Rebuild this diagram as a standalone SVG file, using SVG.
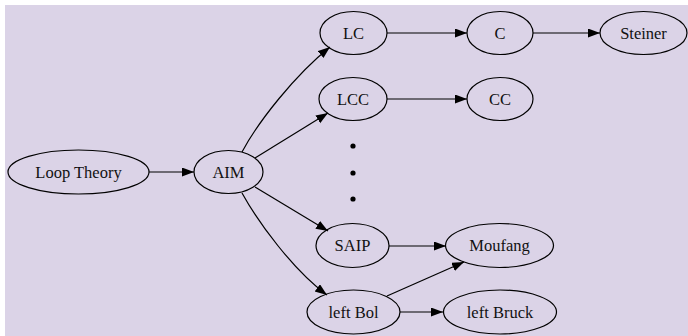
<svg xmlns="http://www.w3.org/2000/svg" width="688" height="336" viewBox="0 0 688 336">
  <style>
    .node ellipse { fill: none; stroke: #000; stroke-width: 1.2; }
    .node text { font-family: "Liberation Serif", "Times New Roman", serif; font-size: 16.5px; fill: #111; text-anchor: middle; }
    .edge { fill: none; stroke: #000; stroke-width: 1.2; marker-end: url(#arrow); }
  </style>
  <defs>
    <marker id="arrow" markerUnits="userSpaceOnUse" markerWidth="13" markerHeight="10" refX="12" refY="4.5" orient="auto">
      <path d="M0,0 L12,4.5 L0,9 Z" fill="#000"/>
    </marker>
  </defs>

  <!-- canvas -->
  <rect x="5" y="5" width="683" height="331" fill="#dbd3e7"/>

  <!-- connectors -->
  <g id="edges">
    <path class="edge" d="M149,172 L194,172"/>
    <path class="edge" d="M242,152 C258,122 295,75 330,47"/>
    <path class="edge" d="M255,158 L328,113"/>
    <path class="edge" d="M255,187 L328,231"/>
    <path class="edge" d="M242,193 C258,222 293,270 327,295"/>
    <path class="edge" d="M387,33 L467,33"/>
    <path class="edge" d="M533,33 L600,33"/>
    <path class="edge" d="M387,99 L467,99"/>
    <path class="edge" d="M389,246 L446,246"/>
    <path class="edge" d="M387,296 L464,262"/>
    <path class="edge" d="M400,312 L443,312"/>
  </g>

  <!-- vertical ellipsis between LCC and SAIP -->
  <g id="ellipsis" fill="#000">
    <circle cx="353" cy="146" r="2.6"/>
    <circle cx="353" cy="173" r="2.6"/>
    <circle cx="353" cy="199" r="2.6"/>
  </g>

  <g id="loop-theory" class="node">
    <ellipse cx="78.5" cy="172" rx="70.5" ry="22"/>
    <text x="78.5" y="177.5">Loop Theory</text>
  </g>
  <g id="aim" class="node">
    <ellipse cx="228.5" cy="172" rx="34.5" ry="21.5"/>
    <text x="228.5" y="177.5">AIM</text>
  </g>
  <g id="lc" class="node">
    <ellipse cx="353.5" cy="33" rx="33.5" ry="21.5"/>
    <text x="353.5" y="38.5">LC</text>
  </g>
  <g id="c" class="node">
    <ellipse cx="500" cy="33" rx="33" ry="21.5"/>
    <text x="500" y="38.5">C</text>
  </g>
  <g id="steiner" class="node">
    <ellipse cx="643.5" cy="33" rx="43.5" ry="21.5"/>
    <text x="643.5" y="38.5">Steiner</text>
  </g>
  <g id="lcc" class="node">
    <ellipse cx="353" cy="99" rx="34" ry="21.5"/>
    <text x="353" y="104.5">LCC</text>
  </g>
  <g id="cc" class="node">
    <ellipse cx="500" cy="99" rx="33" ry="21.5"/>
    <text x="500" y="104.5">CC</text>
  </g>
  <g id="saip" class="node">
    <ellipse cx="352.5" cy="245.5" rx="36.5" ry="22"/>
    <text x="352.5" y="251">SAIP</text>
  </g>
  <g id="moufang" class="node">
    <ellipse cx="499.5" cy="245.5" rx="54" ry="22"/>
    <text x="499.5" y="251">Moufang</text>
  </g>
  <g id="left-bol" class="node">
    <ellipse cx="353.5" cy="312" rx="46.5" ry="22"/>
    <text x="353.5" y="317.5">left Bol</text>
  </g>
  <g id="left-bruck" class="node">
    <ellipse cx="500" cy="312" rx="56.5" ry="22"/>
    <text x="500" y="317.5">left Bruck</text>
  </g>
</svg>
